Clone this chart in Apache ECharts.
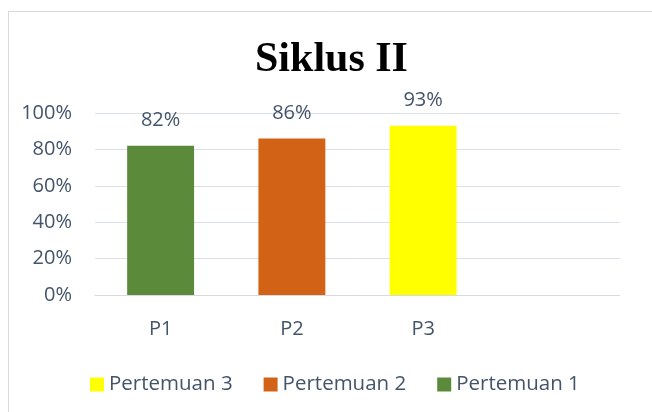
<!DOCTYPE html>
<html>
<head>
<meta charset="utf-8">
<script src="https://cdn.jsdelivr.net/npm/echarts@6/dist/echarts.min.js"></script>
<style>
  html, body { margin: 0; padding: 0; background: #fff; }
  #chart { width: 652px; height: 412px; }
</style>
</head>
<body>
<div id="chart"></div>
<script>
var categories = ['P1', 'P2', 'P3', ''];
var seriesNames = ['Pertemuan 1', 'Pertemuan 2', 'Pertemuan 3'];
var pertemuan1 = [82, '-', '-', '-'];
var pertemuan2 = ['-', 86, '-', '-'];
var pertemuan3 = ['-', '-', 93, '-'];
var yTicks = [0, 20, 40, 60, 80, 100];
var colors = ['#5b8a3a', '#d26316', '#ffff00'];

var textColor = '#44546a';
var font = '"Open Sans", "Noto Sans", sans-serif';

var chart = echarts.init(document.getElementById('chart'));

function makeSeries(name, data, color) {
    return {
        name: name,
        type: 'bar',
        stack: 'all',
        data: data,
        barWidth: '51%',
        itemStyle: { color: color },
        label: {
            show: true,
            position: 'top',
            distance: 15,
            formatter: '{c}%',
            color: textColor,
            fontFamily: font,
            fontSize: 20
        }
    };
}

var option = {
    animation: false,
    backgroundColor: '#fff',
    graphic: [{
        type: 'rect',
        shape: { x: 8.5, y: 11.5, width: 700, height: 500 },
        style: { fill: 'none', stroke: '#d6dae0', lineWidth: 1 }
    }],
    title: {
        text: 'Siklus II',
        left: 250,
        top: 34,
        textStyle: {
            fontFamily: '"Liberation Serif", "Times New Roman", serif',
            fontWeight: 'bold',
            fontSize: 42,
            color: '#000'
        }
    },
    legend: {
        data: [seriesNames[2], seriesNames[1], seriesNames[0]],
        left: 85,
        top: 369,
        itemWidth: 14,
        itemHeight: 14,
        itemGap: 31,
        icon: 'rect',
        textStyle: { color: textColor, fontFamily: font, fontSize: 20.5 }
    },
    grid: { left: 95, right: 32, top: 113, bottom: 117 },
    xAxis: {
        type: 'category',
        data: categories,
        axisLine: { lineStyle: { color: '#d6dbe3' } },
        axisTick: { show: false },
        axisLabel: { color: textColor, fontFamily: font, fontSize: 20, margin: 24 }
    },
    yAxis: {
        type: 'value',
        min: yTicks[0],
        max: yTicks[yTicks.length - 1],
        interval: 20,
        axisLine: { show: false },
        axisTick: { show: false },
        splitLine: { lineStyle: { color: '#dbe0e8' } },
        axisLabel: { color: textColor, fontFamily: font, fontSize: 20, margin: 23, formatter: '{value}%' }
    },
    series: [
        makeSeries(seriesNames[0], pertemuan1, colors[0]),
        makeSeries(seriesNames[1], pertemuan2, colors[1]),
        makeSeries(seriesNames[2], pertemuan3, colors[2])
    ]
};

chart.setOption(option);
</script>
</body>
</html>
